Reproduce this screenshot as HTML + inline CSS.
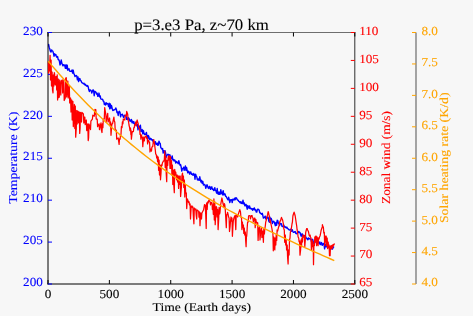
<!DOCTYPE html><html><head><meta charset="utf-8"><style>html,body{margin:0;padding:0;background:#f7f7f7;}svg{display:block;will-change:transform;}text{font-family:"Liberation Serif", serif;text-rendering:geometricPrecision;}</style></head><body>
<svg width="473" height="316" viewBox="0 0 473 316">
<rect width="473" height="316" fill="#f7f7f7"/>
<defs><clipPath id="ax"><rect x="48.0" y="32.5" width="306.8" height="251.5"/></clipPath><clipPath id="ax2"><rect x="47.4" y="32.5" width="307.4" height="251.5"/></clipPath></defs>
<g clip-path="url(#ax)"><path d="M48,46.57 L48.6,44.37 L49.2,47.44 L49.8,49.05 L50.4,51.24 L51,51.93 L51.6,49.94 L52.2,50.91 L52.8,51.1 L53.4,52.98 L54,56.24 L54.6,53.82 L55.2,54.99 L55.8,54.5 L56.4,56.62 L57,57.18 L57.6,56.53 L58.2,59.6 L58.8,59.78 L59.4,61.09 L60,64.98 L60.6,63.55 L61.2,60.01 L61.8,62.85 L62.4,64.64 L63,65.87 L63.6,64.69 L64.2,64.84 L64.8,65.9 L65.4,68.32 L66,64.67 L66.6,68.55 L67.2,65.13 L67.8,70.23 L68.4,69.16 L69,68.7 L69.6,71.12 L70.2,71.31 L70.8,71.16 L71.4,71.21 L72,69.99 L72.6,73.08 L73.2,70.19 L73.8,73.52 L74.4,74.59 L75,76.47 L75.6,76.04 L76.2,75.51 L76.8,76.02 L77.4,79.78 L78,76.89 L78.6,81.66 L79.2,79.05 L79.8,78.4 L80.4,80.53 L81,80.62 L81.6,82.3 L82.2,82.94 L82.8,83.25 L83.4,83.75 L84,83.19 L84.6,84.75 L85.2,84.21 L85.8,85.58 L86.4,85.32 L87,86.3 L87.6,85.57 L88.2,86.76 L88.8,89.82 L89.4,91.49 L90,89.87 L90.6,90.16 L91.2,90.83 L91.8,92.99 L92.4,91.24 L93,89.86 L93.6,90.3 L94.2,95.77 L94.8,91.43 L95.4,91.69 L96,92.22 L96.6,94.1 L97.2,93.29 L97.8,96.32 L98.4,95.84 L99,93.07 L99.6,96.86 L100.2,95.94 L100.8,98.83 L101.4,99.16 L102,99.4 L102.6,99.2 L103.2,101.06 L103.8,101.37 L104.4,104.58 L105,103.23 L105.6,105.01 L106.2,102.67 L106.8,103.98 L107.4,103.45 L108,104.12 L108.6,106.61 L109.2,103.2 L109.8,108.81 L110.4,103.88 L111,108.07 L111.6,105.8 L112.2,108.61 L112.8,110.47 L113.4,110.36 L114,109.65 L114.6,109.85 L115.2,109.34 L115.8,107.92 L116.4,109.45 L117,112.53 L117.6,112.02 L118.2,115.45 L118.8,112.1 L119.4,111.29 L120,112.26 L120.6,116.82 L121.2,114.61 L121.8,114.45 L122.4,114.19 L123,115.9 L123.6,117.36 L124.2,116.01 L124.8,115.2 L125.4,115.53 L126,115.96 L126.6,119.29 L127.2,118.21 L127.8,119.57 L128.4,117.65 L129,118.34 L129.6,120.26 L130.2,121.41 L130.8,119.98 L131.4,119.5 L132,122.68 L132.6,121.19 L133.2,123.16 L133.8,121.62 L134.4,123.89 L135,124.83 L135.6,124.88 L136.2,124.07 L136.8,125.81 L137.4,124.33 L138,129.86 L138.6,126.31 L139.2,128.37 L139.8,126.43 L140.4,125.21 L141,131.64 L141.6,130.89 L142.2,129.56 L142.8,133.83 L143.4,130.58 L144,133.3 L144.6,134.49 L145.2,134.31 L145.8,134.3 L146.4,132.4 L147,136.71 L147.6,139.02 L148.2,135.36 L148.8,136.36 L149.4,139.04 L150,139.64 L150.6,138.34 L151.2,138.73 L151.8,139.76 L152.4,140.65 L153,139.65 L153.6,142.69 L154.2,142 L154.8,143.15 L155.4,141.64 L156,144.48 L156.6,144.09 L157.2,143.05 L157.8,145.38 L158.4,144.79 L159,141.22 L159.6,143.05 L160.2,143.33 L160.8,147.75 L161.4,148.05 L162,149.29 L162.6,148.58 L163.2,153.16 L163.8,150.79 L164.4,152.54 L165,150.74 L165.6,152.85 L166.2,157.35 L166.8,155.68 L167.4,154.83 L168,154.17 L168.6,154.82 L169.2,157.01 L169.8,154.75 L170.4,156.81 L171,158.06 L171.6,158.65 L172.2,155.93 L172.8,159.88 L173.4,159.56 L174,160.91 L174.6,159.86 L175.2,160.78 L175.8,163.12 L176.4,161.52 L177,162.15 L177.6,162.61 L178.2,163.81 L178.8,160.72 L179.4,163.1 L180,165.17 L180.6,164.75 L181.2,167.11 L181.8,171.13 L182.4,168.64 L183,168.66 L183.6,167.25 L184.2,170.37 L184.8,168.14 L185.4,165.97 L186,170.41 L186.6,167.53 L187.2,170.59 L187.8,172.86 L188.4,171.26 L189,172.03 L189.6,174.1 L190.2,172.13 L190.8,171.99 L191.4,174.33 L192,174.32 L192.6,174.92 L193.2,173.43 L193.8,175.16 L194.4,174.2 L195,179.22 L195.6,174.2 L196.2,175.71 L196.8,176.94 L197.4,179.73 L198,180.1 L198.6,178.87 L199.2,180.2 L199.8,176.8 L200.4,180.26 L201,182.11 L201.6,180.3 L202.2,183.27 L202.8,181.39 L203.4,184.98 L204,184.83 L204.6,184.39 L205.2,185.5 L205.8,188.38 L206.4,186.55 L207,184.64 L207.6,186.33 L208.2,187.92 L208.8,188.46 L209.4,186.39 L210,186.75 L210.6,189.21 L211.2,187.56 L211.8,186.83 L212.4,189.41 L213,188.92 L213.6,190.55 L214.2,190.18 L214.8,187.74 L215.4,190.67 L216,190.59 L216.6,193.14 L217.2,188.52 L217.8,193.7 L218.4,194.15 L219,191.95 L219.6,194.23 L220.2,194.16 L220.8,189.59 L221.4,193.54 L222,192.19 L222.6,194.79 L223.2,190.71 L223.8,194.8 L224.4,193.81 L225,194.02 L225.6,196.24 L226.2,196.42 L226.8,197.72 L227.4,198.79 L228,199.81 L228.6,197.13 L229.2,199.36 L229.8,202.62 L230.4,200.1 L231,199.69 L231.6,199.69 L232.2,202.55 L232.8,199.24 L233.4,199.47 L234,199.96 L234.6,198.19 L235.2,199.7 L235.8,197.66 L236.4,197.81 L237,199.23 L237.6,200.08 L238.2,200.24 L238.8,201.41 L239.4,201.73 L240,202.74 L240.6,201.73 L241.2,203.41 L241.8,202.05 L242.4,203.57 L243,200.16 L243.6,203.82 L244.2,202.95 L244.8,205.71 L245.4,205.78 L246,204.3 L246.6,206.27 L247.2,209.22 L247.8,205.58 L248.4,206.61 L249,208.26 L249.6,206.04 L250.2,208.61 L250.8,208.26 L251.4,209.05 L252,208.69 L252.6,210.26 L253.2,208.5 L253.8,209.53 L254.4,208.01 L255,210 L255.6,209.82 L256.2,212.01 L256.8,212.13 L257.4,209.47 L258,209.22 L258.6,209.57 L259.2,210.25 L259.8,212.85 L260.4,213.02 L261,213.75 L261.6,214.19 L262.2,213.32 L262.8,215.32 L263.4,218.07 L264,217.83 L264.6,217.19 L265.2,216.12 L265.8,218.79 L266.4,217.31 L267,218.17 L267.6,216.94 L268.2,217.56 L268.8,221.12 L269.4,222.26 L270,217.29 L270.6,219.81 L271.2,218.49 L271.8,220.32 L272.4,223.59 L273,221.84 L273.6,221.19 L274.2,221.85 L274.8,223.74 L275.4,225.67 L276,222.34 L276.6,225.22 L277.2,220.28 L277.8,220.59 L278.4,223.29 L279,223.6 L279.6,225.63 L280.2,223.38 L280.8,223.73 L281.4,223.67 L282,226.34 L282.6,226.65 L283.2,226.19 L283.8,225.19 L284.4,226.49 L285,227.27 L285.6,226.91 L286.2,228.01 L286.8,227.15 L287.4,228.37 L288,228.73 L288.6,229.46 L289.2,229.92 L289.8,230.08 L290.4,229.26 L291,229.58 L291.6,231.22 L292.2,229.71 L292.8,231.22 L293.4,232.31 L294,232.31 L294.6,231.67 L295.2,231.57 L295.8,233.37 L296.4,233.77 L297,233.15 L297.6,232.44 L298.2,232.75 L298.8,231.39 L299.4,232.5 L300,232.5 L300.6,234.76 L301.2,236.25 L301.8,233.99 L302.4,233.91 L303,236.68 L303.6,235.72 L304.2,236.59 L304.8,235.39 L305.4,236.05 L306,238.06 L306.6,238.01 L307.2,239.12 L307.8,239.71 L308.4,237.87 L309,238.96 L309.6,238.58 L310.2,238.98 L310.8,238.95 L311.4,241.33 L312,240.51 L312.6,239.26 L313.2,241.5 L313.8,243.63 L314.4,242.48 L315,241.5 L315.6,239.81 L316.2,242.65 L316.8,243.24 L317.4,239.51 L318,242.11 L318.6,242.24 L319.2,243.78 L319.8,241.92 L320.4,244.52 L321,243.81 L321.6,242.58 L322.2,245.37 L322.8,244.13 L323.4,243.39 L324,243.83 L324.6,248.81 L325.2,244.26 L325.8,246.55 L326.4,246.83 L327,244.6 L327.6,245.99 L328.2,247.4 L328.8,246.59 L329.4,248.09 L330,246.68 L330.6,247.77 L331.2,246.61 L331.8,249 L332.4,249.09 L333,247.98 L333.6,246.97 L334.2,246.87" fill="none" stroke="#0000ff" stroke-width="1.4" stroke-linejoin="round" stroke-linecap="butt" /></g>
<line x1="47.5" y1="32.5" x2="355.3" y2="32.5" stroke="#6e6e6e" stroke-width="1"/>
<line x1="47.5" y1="284.0" x2="355.3" y2="284.0" stroke="#000" stroke-width="1"/>
<line x1="48.0" y1="32.0" x2="48.0" y2="284.5" stroke="#000" stroke-width="1"/>
<line x1="354.8" y1="32.0" x2="354.8" y2="284.5" stroke="#303030" stroke-width="1"/>
<line x1="48" y1="284.0" x2="48" y2="280.0" stroke="#000" stroke-width="1"/>
<line x1="48" y1="32.5" x2="48" y2="36.5" stroke="#000" stroke-width="1"/>
<line x1="109.36" y1="284.0" x2="109.36" y2="280.0" stroke="#000" stroke-width="1"/>
<line x1="109.36" y1="32.5" x2="109.36" y2="36.5" stroke="#000" stroke-width="1"/>
<line x1="170.72" y1="284.0" x2="170.72" y2="280.0" stroke="#000" stroke-width="1"/>
<line x1="170.72" y1="32.5" x2="170.72" y2="36.5" stroke="#000" stroke-width="1"/>
<line x1="232.08" y1="284.0" x2="232.08" y2="280.0" stroke="#000" stroke-width="1"/>
<line x1="232.08" y1="32.5" x2="232.08" y2="36.5" stroke="#000" stroke-width="1"/>
<line x1="293.44" y1="284.0" x2="293.44" y2="280.0" stroke="#000" stroke-width="1"/>
<line x1="293.44" y1="32.5" x2="293.44" y2="36.5" stroke="#000" stroke-width="1"/>
<line x1="354.8" y1="284.0" x2="354.8" y2="280.0" stroke="#000" stroke-width="1"/>
<line x1="354.8" y1="32.5" x2="354.8" y2="36.5" stroke="#000" stroke-width="1"/>
<line x1="48.0" y1="284" x2="52.0" y2="284" stroke="#0000ff" stroke-width="1"/>
<line x1="48.0" y1="242.08" x2="52.0" y2="242.08" stroke="#0000ff" stroke-width="1"/>
<line x1="48.0" y1="200.17" x2="52.0" y2="200.17" stroke="#0000ff" stroke-width="1"/>
<line x1="48.0" y1="158.25" x2="52.0" y2="158.25" stroke="#0000ff" stroke-width="1"/>
<line x1="48.0" y1="116.33" x2="52.0" y2="116.33" stroke="#0000ff" stroke-width="1"/>
<line x1="48.0" y1="74.42" x2="52.0" y2="74.42" stroke="#0000ff" stroke-width="1"/>
<line x1="48.0" y1="32.5" x2="52.0" y2="32.5" stroke="#0000ff" stroke-width="1"/>
<g clip-path="url(#ax2)"><path d="M48.1,61.6 L48.5,73 L49,64 L49.4,71 L50.1,55.3 L50.5,80 L51.1,60 L51.5,86 L52.1,72 L52.5,90 L53,92.8 L53.4,75 L53.9,86 L54.3,72.7 L54.6,74 L55,84 L55.3,76.7 L55.7,85 L56.3,76.7 L56.7,90 L57.2,74.8 L57.6,100 L58.3,79 L58.7,97.6 L59.3,97 L59.7,80 L60.8,95 L61.2,81 L62.3,80 L62.7,93 L63.8,80 L64.2,100.5 L65.3,98 L65.7,78 L66.3,77.7 L66.7,97 L67.8,81 L68.2,98 L69.3,86 L69.7,103 L70.6,98 L71,112 L71.8,100 L72.2,120 L72.9,101.3 L73.3,126.6 L74.4,104.5 L74.8,128.5 L75.3,106 L75.7,137.2 L76.3,128 L76.7,110.5 L77.2,124 L77.6,111 L78.2,111.4 L78.6,122.8 L79.3,112 L79.7,133.4 L80.1,128.5 L80.5,112.4 L81.5,122 L81.9,112.4 L83.4,114 L83.8,123 L84.8,117 L85.2,124.7 L86.3,120 L86.7,130.6 L87.8,123.8 L88.2,140.6 L88.6,138 L89,124 L90.5,129.6 L90.9,121 L92.4,119 L92.8,115.2 L94.3,116.2 L94.7,110.5 L95,109.5 L95.4,114 L95.8,109.5 L96.2,119 L97.2,119 L97.6,126.6 L99.1,123.8 L99.5,129.6 L101,122.8 L101.4,130 L102,132.5 L102.4,124 L102.9,127.6 L103.3,119 L104.3,119 L104.7,107.6 L105.8,114.3 L106.2,121.9 L107.7,113.3 L108.1,122 L109.6,118 L110,125.8 L110.6,122 L111,135.3 L111.5,128.5 L111.9,123.8 L112.5,123.8 L112.9,122 L113.9,117.1 L114.3,121 L114.8,122 L115.2,130 L116.3,130 L116.7,139.1 L118.2,138 L118.6,141 L119.1,144.4 L119.5,139 L120.1,139.1 L120.5,135 L121,134.4 L121.4,126.6 L122,127.7 L122.4,122 L122.9,123.9 L123.3,119 L124.8,120 L125.2,115.2 L126.3,116 L126.7,111.4 L127.7,114.3 L128.1,120 L128.6,121.9 L129,125 L129.6,127.6 L130,130.6 L130.5,128 L130.9,134.4 L131,130 L131.4,139.1 L132,133.4 L132.4,131.5 L133.4,131.5 L133.8,127.7 L134.3,127.7 L134.7,124.7 L135.3,124 L135.7,122 L136.2,125.8 L136.6,121.9 L137.2,120 L137.6,122 L138.2,123.8 L138.6,127.7 L139.6,128.5 L140,134.4 L140.5,134 L140.9,139.1 L141.5,135 L141.9,137 L142.4,137 L142.8,146.7 L143.4,139.1 L143.8,137 L144.3,141 L144.7,138 L145.5,136.05 L146.2,136 L146.6,138.2 L147.2,137.7 L147.6,143.9 L148.1,140 L148.5,141 L148.7,140.6 L149.1,142 L149.6,142 L150,152 L150.6,149 L151,150.5 L151.5,151 L151.9,147 L152.7,146.65 L153.4,141 L153.8,139.6 L154.4,143 L154.8,146.3 L155.3,150 L155.7,153.9 L156.3,154.8 L156.7,158 L157.2,156 L157.6,161.7 L158.2,157 L158.6,170.3 L159.1,160 L159.5,175 L160.1,165 L160.5,179.8 L161,173.1 L161.4,165 L162,165.5 L162.4,163 L162.9,162 L163.3,161 L163.9,161 L164.3,159.8 L164.8,151 L165.2,167.4 L165.8,156.7 L166.2,173.1 L166.7,181.7 L167.1,160.5 L167.7,165.5 L168.1,158 L168.6,155.8 L169,160 L169.6,156 L170,168.4 L170.5,156.7 L170.9,168.4 L171.5,160.5 L171.9,175 L172.4,165 L172.8,184.5 L173.4,170 L173.8,185.5 L174.3,192.7 L174.7,169.3 L175.3,175 L175.7,172 L176.2,176 L176.6,179.8 L177.2,175 L177.6,182 L178.2,176 L178.6,188.4 L179.1,176 L179.5,184.5 L180.2,176 L180.6,196.5 L181.5,185.6 L181.9,176 L182.5,173.1 L182.9,180.9 L183.4,176 L183.8,187.5 L184.4,180 L184.8,197 L185.3,185 L185.7,193.2 L186.3,193 L186.7,208.6 L187.2,201 L187.6,199 L187.7,199.9 L188.1,201 L188.2,201 L188.6,202.7 L189.1,201.8 L189.5,204.8 L190.1,204 L190.5,219 L191.2,206.1 L192,206 L192.4,207.6 L192.9,207 L193.3,215.2 L193.9,223.8 L194.3,208 L195,209.75 L195.8,209 L196.2,215.2 L196.7,219 L197.1,210 L197.9,210.75 L198.6,211 L199,217.1 L199.6,212 L200,225.7 L200.5,215.2 L200.9,213 L201.5,219 L201.9,213 L202.6,211.7 L203.6,209.75 L204.5,204.7 L205.3,205 L205.7,214.3 L206.2,228.5 L206.6,203 L207.2,209.5 L207.6,202 L208.2,203 L208.6,200.8 L209.1,200 L209.5,201 L210.1,201.8 L210.5,204.8 L211.2,202.3 L212,202.7 L212.4,209.5 L212.9,205 L213.3,214.3 L213.9,198.9 L214.3,220 L214.8,201.8 L215.2,224.7 L215.8,214.3 L216.2,206.5 L216.7,207.5 L217.1,217 L217.7,209.5 L218.1,229.6 L218.7,219 L219.1,207.5 L219.6,214 L220,212.3 L220.6,205 L221,202.8 L221.5,200 L221.9,198 L222.5,200.9 L222.9,203 L223.4,205 L223.8,207.5 L224.4,203.7 L224.8,205 L225.3,210 L225.7,217 L226.3,227.7 L226.7,215 L227.2,214 L227.6,212.3 L228.2,215 L228.6,217 L229.1,218 L229.5,231.5 L230.1,226.5 L230.5,221 L231,217 L231.4,221 L232,218 L232.4,236.3 L232.9,226.5 L233.3,221 L233.9,218 L234.3,217 L235,215.55 L235.8,229.6 L236.2,215 L236.9,214.6 L237.7,217 L238.1,215 L238.8,212.65 L239.8,209.7 L240.5,212 L240.9,217 L241.5,218 L241.9,229.6 L242.4,222 L242.8,227.7 L243.4,225 L243.8,233.4 L244.3,228 L244.7,235 L245.3,232 L245.7,241 L246.1,246.7 L246.5,235 L246.7,236.3 L247.1,230 L247.2,227.7 L247.6,222 L248.2,222 L248.6,216.1 L249.3,215.55 L250.1,216 L250.5,218.9 L251.2,215.55 L252,215.5 L252.4,217 L252.9,218 L253.3,221.8 L253.9,218.9 L254.3,220 L254.8,218 L255.2,227.7 L255.8,219.3 L256.2,221.8 L256.7,222.1 L257.1,223.7 L257.7,222.7 L258.1,240.4 L258.7,228 L259.1,231.6 L259.6,226.5 L260,240 L260.6,232.6 L261,230 L261.5,228 L261.9,237.5 L262.5,231 L262.9,233.5 L263.4,242.3 L263.8,229 L264.4,234 L264.8,228.8 L265.3,226 L265.7,222.1 L266.3,220 L266.7,217.4 L267.2,216 L267.6,214.5 L268.2,211.7 L268.6,213 L269.1,215.5 L269.5,217 L269.6,218 L270,222.1 L270.1,219.3 L270.5,222 L271,224 L271.4,226 L272,229 L272.4,231.6 L272.9,233 L273.3,250.8 L273.9,237 L274.3,248 L274.8,249.9 L275.2,238 L275.8,245 L276.2,235 L276.7,240.4 L277.1,230 L277.7,231 L278.1,229 L278.6,227 L279,225.9 L279.6,223 L280,221.2 L280.5,221 L280.9,219.3 L281.5,217.4 L281.9,218.5 L282.4,219.3 L282.8,221 L283.4,224 L283.8,228.8 L284.3,230 L284.7,242.3 L285.3,235 L285.7,245 L286.2,240 L286.6,250 L287.2,245 L287.6,257.5 L288.1,264 L288.5,250 L289.1,255 L289.5,240 L290,238 L290.4,232 L291,230.7 L291.4,228 L292,224 L292.4,222.1 L292.9,216 L293.3,214.5 L294.1,212.1 L294.8,214.5 L295.2,216 L295.8,220 L296.2,222.8 L296.7,226 L297.1,229.7 L297.7,233.5 L298.1,237 L298.7,238 L299.1,241.8 L299.6,241 L300,255.2 L300.6,250 L301,240 L301.5,246.7 L301.9,238 L302.5,242 L302.9,235 L303.4,235.1 L303.8,237 L304.4,236 L304.8,246.7 L305.3,240 L305.7,232.3 L306.3,230 L306.7,228.5 L307.2,228.5 L307.6,230 L308.2,231 L308.6,232.3 L309.1,235 L309.5,236.1 L310.1,235.1 L310.5,237 L311,238 L311.4,249.5 L312,240 L312.4,246.5 L312.9,241.8 L313.3,249.5 L313.5,264.7 L313.9,245 L314.4,245.7 L314.8,237 L315.3,242 L315.7,236.1 L316.2,236.1 L316.6,245.7 L317.2,237 L317.6,242 L318.1,245.7 L318.5,238 L319.1,239 L319.5,237 L320,236 L320.4,234.5 L321,231 L321.4,229.4 L321.9,228 L322.3,226.9 L322.4,224.7 L322.8,226 L323.4,227.5 L323.8,233 L324.3,232.3 L324.7,245.7 L325.3,236 L325.7,242 L326.2,236.1 L326.6,245.7 L327.2,238 L327.6,248.6 L328.2,242 L328.6,247 L329.1,245 L329.5,255.7 L330.1,255.7 L330.5,246 L331,248.6 L331.4,245.6 L332,248.6 L332.4,245 L332.9,247 L333.3,244.6 L333.9,245 L334.3,243.7 L334.5,243.8" fill="none" stroke="#ff0000" stroke-width="1.25" stroke-linejoin="round" stroke-linecap="butt" /></g>
<line x1="354.8" y1="284" x2="350.8" y2="284" stroke="#ff0000" stroke-width="1"/>
<line x1="354.8" y1="256.06" x2="350.8" y2="256.06" stroke="#ff0000" stroke-width="1"/>
<line x1="354.8" y1="228.11" x2="350.8" y2="228.11" stroke="#ff0000" stroke-width="1"/>
<line x1="354.8" y1="200.17" x2="350.8" y2="200.17" stroke="#ff0000" stroke-width="1"/>
<line x1="354.8" y1="172.22" x2="350.8" y2="172.22" stroke="#ff0000" stroke-width="1"/>
<line x1="354.8" y1="144.28" x2="350.8" y2="144.28" stroke="#ff0000" stroke-width="1"/>
<line x1="354.8" y1="116.33" x2="350.8" y2="116.33" stroke="#ff0000" stroke-width="1"/>
<line x1="354.8" y1="88.39" x2="350.8" y2="88.39" stroke="#ff0000" stroke-width="1"/>
<line x1="354.8" y1="60.44" x2="350.8" y2="60.44" stroke="#ff0000" stroke-width="1"/>
<line x1="354.8" y1="32.5" x2="350.8" y2="32.5" stroke="#ff0000" stroke-width="1"/>
<g clip-path="url(#ax)"><path d="M48.3,61.31 L51.92,65.6 L55.54,69.82 L59.16,73.98 L62.78,78.07 L66.4,82.1 L70.02,86.06 L73.64,89.97 L77.26,93.81 L80.88,97.59 L84.5,101.31 L88.12,104.97 L91.74,108.57 L95.36,112.12 L98.98,115.61 L102.6,119.04 L106.22,122.42 L109.84,125.74 L113.46,129.01 L117.08,132.23 L120.71,135.4 L124.33,138.51 L127.95,141.58 L131.57,144.6 L135.19,147.56 L138.81,150.49 L142.43,153.36 L146.05,156.19 L149.67,158.97 L153.29,161.71 L156.91,164.41 L160.53,167.06 L164.15,169.67 L167.77,172.24 L171.39,174.77 L175.01,177.26 L178.63,179.72 L182.25,182.13 L185.87,184.51 L189.49,186.85 L193.11,189.16 L196.73,191.44 L200.35,193.68 L203.97,195.88 L207.59,198.06 L211.21,200.2 L214.83,202.32 L218.45,204.4 L222.07,206.46 L225.69,208.49 L229.31,210.49 L232.93,212.47 L236.55,214.42 L240.17,216.34 L243.79,218.25 L247.41,220.13 L251.03,221.98 L254.65,223.82 L258.27,225.64 L261.89,227.43 L265.52,229.21 L269.14,230.97 L272.76,232.72 L276.38,234.45 L280,236.16 L283.62,237.86 L287.24,239.54 L290.86,241.21 L294.48,242.87 L298.1,244.52 L301.72,246.16 L305.34,247.79 L308.96,249.41 L312.58,251.02 L316.2,252.62 L319.82,254.22 L323.44,255.82 L327.06,257.41 L330.68,258.99 L334.3,260.57" fill="none" stroke="#ffa500" stroke-width="1.4" stroke-linejoin="round" stroke-linecap="butt" /></g>
<line x1="416.0" y1="32.5" x2="416.0" y2="284.0" stroke="#606060" stroke-width="1.1"/>
<line x1="416.0" y1="284" x2="412.0" y2="284" stroke="#ffa500" stroke-width="1"/>
<line x1="416.0" y1="252.56" x2="412.0" y2="252.56" stroke="#ffa500" stroke-width="1"/>
<line x1="416.0" y1="221.12" x2="412.0" y2="221.12" stroke="#ffa500" stroke-width="1"/>
<line x1="416.0" y1="189.69" x2="412.0" y2="189.69" stroke="#ffa500" stroke-width="1"/>
<line x1="416.0" y1="158.25" x2="412.0" y2="158.25" stroke="#ffa500" stroke-width="1"/>
<line x1="416.0" y1="126.81" x2="412.0" y2="126.81" stroke="#ffa500" stroke-width="1"/>
<line x1="416.0" y1="95.38" x2="412.0" y2="95.38" stroke="#ffa500" stroke-width="1"/>
<line x1="416.0" y1="63.94" x2="412.0" y2="63.94" stroke="#ffa500" stroke-width="1"/>
<line x1="416.0" y1="32.5" x2="412.0" y2="32.5" stroke="#ffa500" stroke-width="1"/>
<text transform="translate(42.8,286.2) scale(1.07,1)" font-size="12.3" fill="#0000ff" stroke="#0000ff" stroke-width="0.1" text-anchor="end">200</text>
<text transform="translate(42.8,244.28) scale(1.07,1)" font-size="12.3" fill="#0000ff" stroke="#0000ff" stroke-width="0.1" text-anchor="end">205</text>
<text transform="translate(42.8,202.37) scale(1.07,1)" font-size="12.3" fill="#0000ff" stroke="#0000ff" stroke-width="0.1" text-anchor="end">210</text>
<text transform="translate(42.8,160.45) scale(1.07,1)" font-size="12.3" fill="#0000ff" stroke="#0000ff" stroke-width="0.1" text-anchor="end">215</text>
<text transform="translate(42.8,118.53) scale(1.07,1)" font-size="12.3" fill="#0000ff" stroke="#0000ff" stroke-width="0.1" text-anchor="end">220</text>
<text transform="translate(42.8,76.62) scale(1.07,1)" font-size="12.3" fill="#0000ff" stroke="#0000ff" stroke-width="0.1" text-anchor="end">225</text>
<text transform="translate(42.8,34.7) scale(1.07,1)" font-size="12.3" fill="#0000ff" stroke="#0000ff" stroke-width="0.1" text-anchor="end">230</text>
<text transform="translate(48,297.6) scale(1.07,1)" font-size="12.3" fill="#000" stroke="#000" stroke-width="0.1" text-anchor="middle">0</text>
<text transform="translate(109.36,297.6) scale(1.07,1)" font-size="12.3" fill="#000" stroke="#000" stroke-width="0.1" text-anchor="middle">500</text>
<text transform="translate(170.72,297.6) scale(1.07,1)" font-size="12.3" fill="#000" stroke="#000" stroke-width="0.1" text-anchor="middle">1000</text>
<text transform="translate(232.08,297.6) scale(1.07,1)" font-size="12.3" fill="#000" stroke="#000" stroke-width="0.1" text-anchor="middle">1500</text>
<text transform="translate(293.44,297.6) scale(1.07,1)" font-size="12.3" fill="#000" stroke="#000" stroke-width="0.1" text-anchor="middle">2000</text>
<text transform="translate(354.8,297.6) scale(1.07,1)" font-size="12.3" fill="#000" stroke="#000" stroke-width="0.1" text-anchor="middle">2500</text>
<text transform="translate(359.2,286.4) scale(1.07,1)" font-size="12.3" fill="#ff0000" stroke="#ff0000" stroke-width="0.1" text-anchor="start">65</text>
<text transform="translate(359.2,258.46) scale(1.07,1)" font-size="12.3" fill="#ff0000" stroke="#ff0000" stroke-width="0.1" text-anchor="start">70</text>
<text transform="translate(359.2,230.51) scale(1.07,1)" font-size="12.3" fill="#ff0000" stroke="#ff0000" stroke-width="0.1" text-anchor="start">75</text>
<text transform="translate(359.2,202.57) scale(1.07,1)" font-size="12.3" fill="#ff0000" stroke="#ff0000" stroke-width="0.1" text-anchor="start">80</text>
<text transform="translate(359.2,174.62) scale(1.07,1)" font-size="12.3" fill="#ff0000" stroke="#ff0000" stroke-width="0.1" text-anchor="start">85</text>
<text transform="translate(359.2,146.68) scale(1.07,1)" font-size="12.3" fill="#ff0000" stroke="#ff0000" stroke-width="0.1" text-anchor="start">90</text>
<text transform="translate(359.2,118.73) scale(1.07,1)" font-size="12.3" fill="#ff0000" stroke="#ff0000" stroke-width="0.1" text-anchor="start">95</text>
<text transform="translate(359.2,90.79) scale(1.07,1)" font-size="12.3" fill="#ff0000" stroke="#ff0000" stroke-width="0.1" text-anchor="start">100</text>
<text transform="translate(359.2,62.84) scale(1.07,1)" font-size="12.3" fill="#ff0000" stroke="#ff0000" stroke-width="0.1" text-anchor="start">105</text>
<text transform="translate(359.2,34.9) scale(1.07,1)" font-size="12.3" fill="#ff0000" stroke="#ff0000" stroke-width="0.1" text-anchor="start">110</text>
<text transform="translate(421.5,286.4) scale(1.07,1)" font-size="12.3" fill="#ffa500" stroke="#ffa500" stroke-width="0.1" text-anchor="start">4.0</text>
<text transform="translate(421.5,254.96) scale(1.07,1)" font-size="12.3" fill="#ffa500" stroke="#ffa500" stroke-width="0.1" text-anchor="start">4.5</text>
<text transform="translate(421.5,223.53) scale(1.07,1)" font-size="12.3" fill="#ffa500" stroke="#ffa500" stroke-width="0.1" text-anchor="start">5.0</text>
<text transform="translate(421.5,192.09) scale(1.07,1)" font-size="12.3" fill="#ffa500" stroke="#ffa500" stroke-width="0.1" text-anchor="start">5.5</text>
<text transform="translate(421.5,160.65) scale(1.07,1)" font-size="12.3" fill="#ffa500" stroke="#ffa500" stroke-width="0.1" text-anchor="start">6.0</text>
<text transform="translate(421.5,129.21) scale(1.07,1)" font-size="12.3" fill="#ffa500" stroke="#ffa500" stroke-width="0.1" text-anchor="start">6.5</text>
<text transform="translate(421.5,97.78) scale(1.07,1)" font-size="12.3" fill="#ffa500" stroke="#ffa500" stroke-width="0.1" text-anchor="start">7.0</text>
<text transform="translate(421.5,66.34) scale(1.07,1)" font-size="12.3" fill="#ffa500" stroke="#ffa500" stroke-width="0.1" text-anchor="start">7.5</text>
<text transform="translate(421.5,34.9) scale(1.07,1)" font-size="12.3" fill="#ffa500" stroke="#ffa500" stroke-width="0.1" text-anchor="start">8.0</text>
<text transform="translate(201.5,29.6) scale(1.05,1)" font-size="16.0" fill="#000" stroke="#000" stroke-width="0.1" text-anchor="middle">p=3.e3 Pa, z~70 km</text>
<text transform="translate(201.8,311.3) scale(1.144,1)" font-size="11.9" fill="#000" stroke="#000" stroke-width="0.1" text-anchor="middle">Time (Earth days)</text>
<text transform="translate(17.3,157.8) rotate(-90) scale(1.14,1)" font-size="12.1" fill="#0000ff" stroke="#0000ff" stroke-width="0.1" text-anchor="middle">Temperature (K)</text>
<text transform="translate(390.3,157.5) rotate(-90) scale(1.108,1)" font-size="12.1" fill="#ff0000" stroke="#ff0000" stroke-width="0.1" text-anchor="middle">Zonal wind (m/s)</text>
<text transform="translate(448.4,157.8) rotate(-90) scale(1.14,1)" font-size="12.1" fill="#ffa500" stroke="#ffa500" stroke-width="0.1" text-anchor="middle">Solar heating rate (K/d)</text>
</svg></body></html>
